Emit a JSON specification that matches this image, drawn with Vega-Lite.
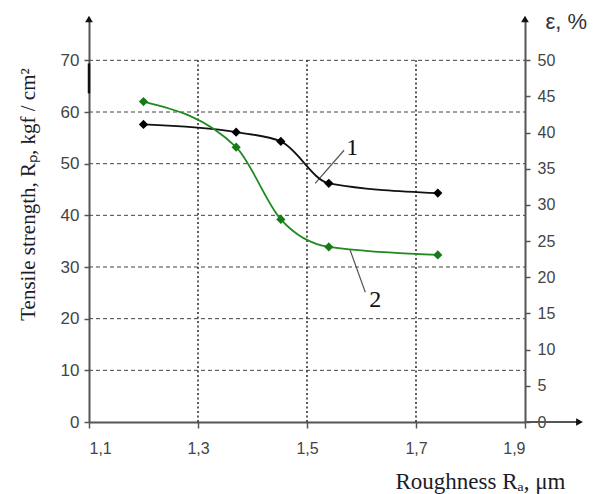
{
  "$schema": "https://vega.github.io/schema/vega-lite/v6.json",
  "width": 436,
  "height": 403,
  "autosize": {"type": "none"},
  "padding": {"left": 89, "top": 19, "right": 68, "bottom": 72},
  "background": "white",
  "config": {
    "view": {"stroke": null},
    "axis": {"labelFont": "Liberation Sans", "labelFontSize": 15, "labelColor": "#444", "domainColor": "#555", "domainWidth": 2, "tickColor": "#555", "tickWidth": 1.5, "grid": false, "titleFont": "Liberation Serif", "titleFontWeight": "normal", "titleColor": "#1c1c2a"}
  },
  "datasets": {
    "r": [
      {"x": 1.2, "R": 57.6},
      {"x": 1.37, "R": 56.1},
      {"x": 1.452, "R": 54.3},
      {"x": 1.54, "R": 46.2},
      {"x": 1.74, "R": 44.3}
    ],
    "e": [
      {"x": 1.2, "eps": 44.3},
      {"x": 1.37, "eps": 38.0},
      {"x": 1.452, "eps": 28.0},
      {"x": 1.54, "eps": 24.2},
      {"x": 1.74, "eps": 23.1}
    ],
    "hgrid": [
      {"y": 10, "x1": 1.1, "x2": 1.9},
      {"y": 20, "x1": 1.1, "x2": 1.9},
      {"y": 30, "x1": 1.1, "x2": 1.9},
      {"y": 40, "x1": 1.1, "x2": 1.9},
      {"y": 50, "x1": 1.1, "x2": 1.9},
      {"y": 60, "x1": 1.1, "x2": 1.9},
      {"y": 70, "x1": 1.1, "x2": 1.9}
    ],
    "vgrid": [
      {"x": 1.3, "y1": 0, "y2": 70},
      {"x": 1.5, "y1": 0, "y2": 70},
      {"x": 1.7, "y1": 0, "y2": 70}
    ],
    "leaders": [
      {"x1": 1.568, "y1": 52.6, "x2": 1.515, "y2": 46.2},
      {"x1": 1.579, "y1": 33.3, "x2": 1.607, "y2": 25.1}
    ],
    "labels": [
      {"x": 1.583, "y": 53.0, "t": "1"},
      {"x": 1.625, "y": 23.6, "t": "2"}
    ],
    "arrowsUp": [
      {"x": 1.1, "y": 78},
      {"x": 1.9, "y": 78}
    ],
    "arrowRight": [
      {"x": 2.0, "y": 0}
    ],
    "xext": [
      {"x1": 1.9, "x2": 2.0, "y": 0}
    ],
    "blip": [
      {"x": 1.1, "y1": 63.6, "y2": 69.4}
    ]
  },
  "resolve": {"scale": {"y": "independent"}},
  "layer": [
    {
      "layer": [
        {
          "data": {"name": "hgrid"},
          "mark": {"type": "rule", "color": "#444", "strokeDash": [4, 3], "strokeWidth": 1},
          "encoding": {
            "x": {"field": "x1", "type": "quantitative", "scale": {"domain": [1.1, 1.9], "nice": false}, "axis": {"values": [1.1, 1.3, 1.5, 1.7, 1.9], "labelExpr": "replace(datum.label, '.', ',')", "tickSize": 6, "labelPadding": 12, "labelFontSize": 16, "title": "Roughness Rₐ, μm", "titleFontSize": 23, "titleAnchor": "end", "titleAlign": "right", "titleBaseline": "middle", "titleX": 476, "titleY": 59, "titleColor": "#1c1c2a"}},
            "x2": {"field": "x2"},
            "y": {"field": "y", "type": "quantitative", "scale": {"domain": [0, 78], "nice": false, "zero": false}, "axis": {"orient": "left", "values": [0, 10, 20, 30, 40, 50, 60, 70], "tickSize": 5, "labelPadding": 5, "labelFontSize": 17, "title": "Tensile strength,  Rₚ, kgf / cm²", "titleFontSize": 21, "titleX": -61, "titleY": 175, "titleAngle": -90, "titleBaseline": "middle", "titleAlign": "center"}}
          }
        },
        {
          "data": {"name": "vgrid"},
          "mark": {"type": "rule", "color": "#333", "strokeDash": [2, 2.5], "strokeWidth": 1.6},
          "encoding": {
            "x": {"field": "x", "type": "quantitative"},
            "y": {"field": "y1", "type": "quantitative"},
            "y2": {"field": "y2"}
          }
        },
        {
          "data": {"name": "xext"},
          "mark": {"type": "rule", "color": "#555", "strokeWidth": 2},
          "encoding": {
            "x": {"field": "x1", "type": "quantitative"},
            "x2": {"field": "x2"},
            "y": {"field": "y", "type": "quantitative"}
          }
        },
        {
          "data": {"name": "blip"},
          "mark": {"type": "rule", "color": "#111", "strokeWidth": 2.5},
          "encoding": {
            "x": {"field": "x", "type": "quantitative"},
            "y": {"field": "y1", "type": "quantitative"},
            "y2": {"field": "y2"}
          }
        },
        {
          "data": {"name": "arrowsUp"},
          "mark": {"type": "point", "shape": "triangle-up", "filled": true, "color": "#111", "size": 60, "opacity": 1},
          "encoding": {
            "x": {"field": "x", "type": "quantitative"},
            "y": {"field": "y", "type": "quantitative"}
          }
        },
        {
          "data": {"name": "arrowRight"},
          "mark": {"type": "point", "shape": "triangle-right", "filled": true, "color": "#111", "size": 60, "opacity": 1},
          "encoding": {
            "x": {"field": "x", "type": "quantitative"},
            "y": {"field": "y", "type": "quantitative"}
          }
        },
        {
          "data": {"name": "leaders"},
          "mark": {"type": "rule", "color": "#555", "strokeWidth": 1.2},
          "encoding": {
            "x": {"field": "x1", "type": "quantitative"},
            "x2": {"field": "x2"},
            "y": {"field": "y1", "type": "quantitative"},
            "y2": {"field": "y2"}
          }
        },
        {
          "data": {"name": "labels"},
          "mark": {"type": "text", "font": "Liberation Serif", "fontSize": 24, "color": "#111", "baseline": "middle", "align": "center"},
          "encoding": {
            "x": {"field": "x", "type": "quantitative"},
            "y": {"field": "y", "type": "quantitative"},
            "text": {"field": "t"}
          }
        },
        {
          "data": {"name": "r"},
          "mark": {"type": "line", "interpolate": "monotone", "color": "#111", "strokeWidth": 1.8, "point": {"shape": "diamond", "filled": true, "size": 85, "color": "#000"}},
          "encoding": {
            "x": {"field": "x", "type": "quantitative"},
            "y": {"field": "R", "type": "quantitative"}
          }
        }
      ]
    },
    {
      "data": {"name": "e"},
      "mark": {"type": "line", "interpolate": "monotone", "color": "#1f8a1f", "strokeWidth": 1.8, "point": {"shape": "diamond", "filled": true, "size": 85, "color": "#1a7a1a"}},
      "encoding": {
        "x": {"field": "x", "type": "quantitative"},
        "y": {"field": "eps", "type": "quantitative", "scale": {"domain": [0, 55.714], "nice": false, "zero": false}, "axis": {"orient": "right", "values": [0, 5, 10, 15, 20, 25, 30, 35, 40, 45, 50], "tickSize": 5, "labelPadding": 7, "labelFontSize": 16, "title": "ε, %", "titleFont": "Liberation Sans", "titleFontSize": 22, "titleAngle": 0, "titleAlign": "left", "titleBaseline": "middle", "titleX": 20, "titleY": 2, "titleColor": "#333"}}
      }
    }
  ]
}
